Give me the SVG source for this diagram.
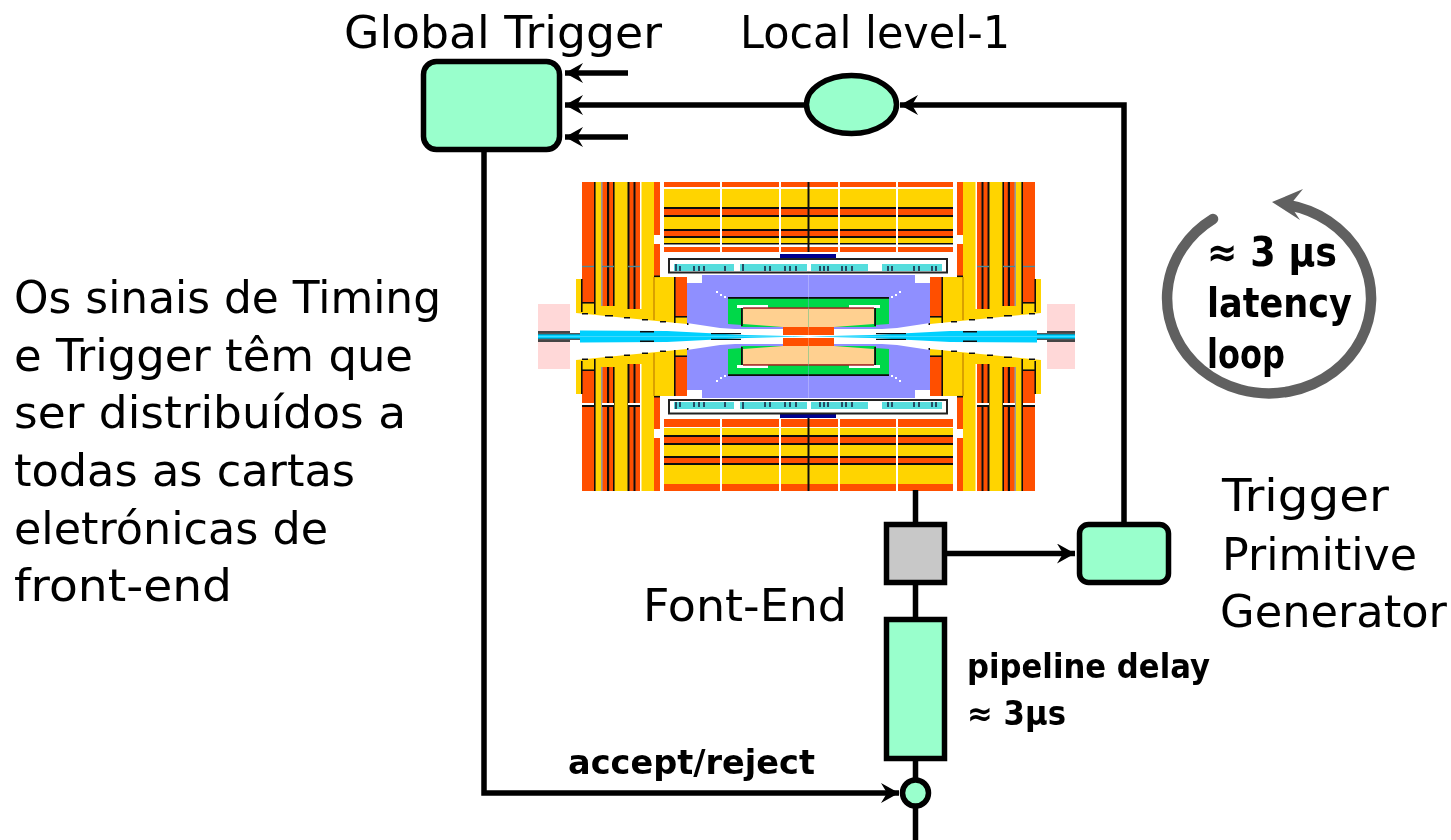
<svg xmlns="http://www.w3.org/2000/svg" xmlns:xlink="http://www.w3.org/1999/xlink" width="1451" height="840" viewBox="0 0 1451 840">
<style>
.n{fill:#99ffcc;stroke:#000;stroke-width:5.5}
.g{fill:#c8c8c8;stroke:#000;stroke-width:5.5}
.c{fill:none;stroke:#000;stroke-width:5.5}
text{font-family:"DejaVu Sans","Noto Sans",sans-serif;fill:#000;font-size:45px}
.b{font-weight:bold;font-size:33px}
.b2{font-weight:bold;font-size:40px}
.o{fill:#ff5000}.y{fill:#ffd400}.k{fill:#111}.w{fill:#fff}.t{fill:#55dddd}.p{fill:#8f8fff}.e{fill:#00d84a}.h{fill:#ffd090}.r{fill:#ffd8d8}.s{fill:#00d0ff}.v{fill:#000090}
</style>
<defs>
<marker id="a" markerUnits="userSpaceOnUse" markerWidth="20" markerHeight="20" refX="18" refY="10" orient="auto"><path d="M0,0 L18,10 L0,20 L6,10 Z" fill="#000"/></marker>
<filter id="soft" x="-2%" y="-2%" width="104%" height="104%"><feGaussianBlur stdDeviation="0.55"/></filter>
<g id="q">
<polygon class="y" points="576,279 582,279 582,182 654,182 654,277 687,277 687,324 576,313"/>
<rect class="o" x="582" y="182" width="12" height="121"/>
<rect class="k" x="594" y="182" width="1.6" height="132"/>
<rect class="k" x="581" y="279" width="1.6" height="33"/>
<rect class="k" x="582" y="302" width="12" height="1.6"/>
<rect class="o" x="602" y="182" width="12" height="124"/>
<rect x="601" y="182" width="1.6" height="124" fill="#999"/>
<rect class="k" x="607" y="182" width="2.2" height="124"/>
<rect class="k" x="613" y="182" width="1.6" height="124"/>
<rect class="o" x="628" y="182" width="12" height="127"/>
<rect class="w" x="640" y="182" width="1.5" height="127"/>
<rect class="k" x="627.5" y="182" width="2" height="127"/>
<rect class="k" x="633.5" y="182" width="2" height="127"/>
<rect class="o" x="654" y="182" width="6" height="53"/>
<rect class="w" x="654" y="235" width="7" height="9"/>
<rect class="o" x="654" y="244" width="6" height="33"/>
<rect class="w" x="660" y="182" width="4" height="90"/>
<rect class="k" x="654" y="275.500" width="6" height="1.600"/>
<rect x="653.400" y="277" width="1.200" height="43" fill="#c08000"/>
<rect class="o" x="675" y="277" width="12" height="39"/>
<rect class="k" x="674" y="277" width="1.600" height="46"/>
<rect class="k" x="675" y="316" width="12" height="1.600"/>
<rect class="k" x="687" y="317" width="1.500" height="8"/>
<rect class="k" x="582" y="313" width="6" height="1.500"/>
<rect class="k" x="605" y="315" width="8" height="1.500"/>
<rect class="k" x="624" y="317" width="6" height="1.500"/>
<rect class="k" x="642" y="319" width="6" height="1.500"/>
<rect class="k" x="660" y="321" width="6" height="1.500"/>
<polygon class="p" points="702,275 808.500,275 808.500,329 735,329 720,328 687,323 687,283 702,283"/>
<polygon class="e" points="728,298 808.500,298 808.500,327 741,327 741,308 742,325 728,324"/>
<rect class="k" x="728" y="297" width="80.500" height="1.800"/>
<rect class="k" x="741" y="308" width="1.800" height="18"/>
<polygon class="w" points="737,305 768,305 768,308 737,308"/>
<polygon class="h" points="743,308 808.500,308 808.500,330 783,330 783,327 743,324"/>
<rect class="o" x="783" y="327" width="25.500" height="8"/>
<rect x="743" y="307.300" width="65.500" height="1.500" fill="#a02020"/>
<rect class="w" x="716" y="291" width="2" height="2"/><rect class="w" x="720" y="294" width="2" height="2"/><rect class="w" x="724" y="296" width="2" height="2"/>
<rect class="r" x="538" y="304" width="32" height="28"/>
<rect x="538" y="331" width="32" height="2" fill="#444"/>
<rect class="s" x="538" y="334" width="42" height="2.500"/>
<rect class="k" x="538" y="333.300" width="42" height="1"/>
<polygon class="s" points="580,330.500 667,331 745,335 808.500,336.500 580,336.500"/>
<rect class="k" x="640" y="331" width="14" height="1.500"/>
<rect class="k" x="711" y="333" width="30" height="1.200"/>
</g>
</defs>
<g id="detector" filter="url(#soft)">
<use xlink:href="#q" href="#q"/>
<use xlink:href="#q" href="#q" transform="translate(1617,0) scale(-1,1)"/>
<use xlink:href="#q" href="#q" transform="translate(0,673) scale(1,-1)"/>
<use xlink:href="#q" href="#q" transform="translate(1617,673) scale(-1,-1)"/>
<rect class="w" x="1075" y="300" width="8" height="72"/>
<rect class="w" x="582" y="403" width="12" height="2"/><rect class="k" x="582" y="405" width="12" height="2"/>
<rect class="w" x="602" y="403" width="12" height="2"/><rect class="k" x="602" y="405" width="12" height="2"/>
<rect class="w" x="628" y="403" width="12" height="2"/><rect class="k" x="628" y="405" width="12" height="2"/>
<rect class="w" x="1023" y="403" width="12" height="2"/><rect class="k" x="1023" y="405" width="12" height="2"/>
<rect class="w" x="1003" y="403" width="12" height="2"/><rect class="k" x="1003" y="405" width="12" height="2"/>
<rect class="w" x="977" y="403" width="12" height="2"/><rect class="k" x="977" y="405" width="12" height="2"/>
<rect x="582" y="265.800" width="12" height="1.400" fill="#508a9a"/><rect x="602" y="265.800" width="12" height="1.400" fill="#508a9a"/><rect x="628" y="265.800" width="12" height="1.400" fill="#508a9a"/>
<rect x="1023" y="265.800" width="12" height="1.400" fill="#508a9a"/><rect x="1003" y="265.800" width="12" height="1.400" fill="#508a9a"/><rect x="977" y="265.800" width="12" height="1.400" fill="#508a9a"/>
<rect class="y" x="664" y="189" width="289" height="55"/>
<rect class="o" x="664" y="182" width="289" height="5"/>
<rect class="o" x="664" y="208" width="289" height="8"/>
<rect class="k" x="664" y="207" width="289" height="2"/><rect class="k" x="664" y="215" width="289" height="2"/>
<rect class="o" x="664" y="230" width="289" height="7"/>
<rect class="k" x="664" y="229" width="289" height="2"/><rect class="k" x="664" y="236" width="289" height="2"/>
<rect class="k" x="664" y="243" width="289" height="1.500"/>
<rect class="o" x="664" y="247" width="289" height="5"/>
<rect class="y" x="664" y="428" width="289" height="56"/>
<rect class="o" x="664" y="419" width="289" height="8"/>
<rect class="o" x="664" y="484" width="289" height="7"/>
<rect class="o" x="664" y="436" width="289" height="7"/>
<rect class="k" x="664" y="435" width="289" height="2"/><rect class="k" x="664" y="443" width="289" height="2"/>
<rect class="o" x="664" y="457" width="289" height="7"/>
<rect class="k" x="664" y="456" width="289" height="2"/><rect class="k" x="664" y="463" width="289" height="2"/>
<rect class="w" x="720" y="182" width="2" height="71"/><rect class="w" x="779" y="182" width="2" height="71"/><rect class="w" x="838" y="182" width="2" height="71"/><rect class="w" x="896" y="182" width="2" height="71"/>
<rect class="w" x="720" y="418" width="2" height="73"/><rect class="w" x="779" y="418" width="2" height="73"/><rect class="w" x="838" y="418" width="2" height="73"/><rect class="w" x="896" y="418" width="2" height="73"/>
<rect class="k" x="807.500" y="182" width="2" height="70"/><rect class="k" x="807.500" y="418" width="2" height="73"/>
<rect class="v" x="780" y="254" width="56" height="5"/><rect class="v" x="780" y="413" width="56" height="5"/>
<rect class="w" x="664" y="253" width="289" height="1"/>
<rect x="669" y="259" width="278" height="13.500" fill="#fff" stroke="#222" stroke-width="2"/>
<rect x="669" y="400" width="278" height="13.500" fill="#fff" stroke="#222" stroke-width="2"/>
<rect class="t" x="674" y="264" width="60" height="7"/><rect class="t" x="740" y="264" width="67" height="7"/><rect class="t" x="811" y="264" width="57" height="7"/><rect class="t" x="882" y="264" width="60" height="7"/>
<rect class="t" x="674" y="402" width="60" height="7"/><rect class="t" x="740" y="402" width="67" height="7"/><rect class="t" x="811" y="402" width="57" height="7"/><rect class="t" x="882" y="402" width="60" height="7"/>
<path d="M676 264v7M680 266v5M694 266v5M699 266v5M704 266v5M725 266v5M743 264v7M765 266v5M770 266v5M785 266v5M790 266v5M796 266v5M820 266v5M824 266v5M828 266v5M842 266v5M846 266v5M852 266v5M888 266v5M892 266v5M914 266v5M919 266v5M932 266v5M936 266v5M676 402v7M680 402v5M694 402v5M699 402v5M704 402v5M725 402v5M743 402v7M765 402v5M770 402v5M785 402v5M790 402v5M796 402v5M820 402v5M824 402v5M828 402v5M842 402v5M846 402v5M852 402v5M888 402v5M892 402v5M914 402v5M919 402v5M932 402v5M936 402v5" stroke="#113" stroke-width="1.400" fill="none"/>
</g>
<g id="connectors">
<path class="c" d="M915.500 490V522M915.500 585V617M915.500 761V778M915.500 808V840"/>
<path class="c" d="M1124 523V105H900" marker-end="url(#a)"/>
<path class="c" d="M805 105H565" marker-end="url(#a)"/>
<path class="c" d="M628 73H565" marker-end="url(#a)"/>
<path class="c" d="M628 137H565" marker-end="url(#a)"/>
<path class="c" d="M947 553.500H1075" marker-end="url(#a)"/>
<path class="c" d="M484 151V793H899" marker-end="url(#a)"/>
</g>
<g id="global-trigger"><rect class="n" x="423.500" y="61.500" width="136" height="88" rx="13"/><text x="344" y="48" textLength="318" lengthAdjust="spacingAndGlyphs">Global Trigger</text></g>
<g id="local-level-1"><ellipse class="n" cx="851.500" cy="104.500" rx="45" ry="29"/><text x="740" y="48" textLength="270" lengthAdjust="spacingAndGlyphs">Local level-1</text></g>
<g id="front-end"><rect class="g" x="886.500" y="524.500" width="58" height="58"/><text x="643" y="621" textLength="204" lengthAdjust="spacingAndGlyphs">Font-End</text></g>
<g id="trigger-primitive-generator"><rect class="n" x="1079.500" y="524.500" width="89" height="58" rx="9"/>
<text x="1222" y="511" textLength="167" lengthAdjust="spacingAndGlyphs">Trigger</text>
<text x="1222" y="570" textLength="195" lengthAdjust="spacingAndGlyphs">Primitive</text>
<text x="1220" y="627" textLength="227" lengthAdjust="spacingAndGlyphs">Generator</text></g>
<g id="pipeline"><rect class="n" x="886.500" y="619.500" width="58" height="139"/>
<text class="b" x="967" y="678" textLength="243" lengthAdjust="spacingAndGlyphs">pipeline delay</text>
<text class="b" x="967" y="725" textLength="99" lengthAdjust="spacingAndGlyphs">≈ 3μs</text></g>
<g id="accept-reject"><circle class="n" cx="915.500" cy="793" r="13"/><text class="b" x="568" y="774" textLength="247" lengthAdjust="spacingAndGlyphs">accept/reject</text></g>
<g id="latency-loop">
<path d="M1213 219A102 95 0 1 0 1288 205" fill="none" stroke="#606060" stroke-width="10.500" stroke-linecap="round"/>
<polygon points="1272,202 1303,189 1290,205 1300,220" fill="#606060"/>
<text class="b2" x="1207" y="266" textLength="130" lengthAdjust="spacingAndGlyphs">≈ 3 μs</text>
<text class="b2" x="1207" y="317" textLength="145" lengthAdjust="spacingAndGlyphs">latency</text>
<text class="b2" x="1207" y="368" textLength="78" lengthAdjust="spacingAndGlyphs">loop</text>
</g>
<g id="note">
<text x="14" y="313" textLength="427" lengthAdjust="spacingAndGlyphs">Os sinais de Timing</text>
<text x="14" y="371" textLength="399" lengthAdjust="spacingAndGlyphs">e Trigger têm que</text>
<text x="14" y="428" textLength="392" lengthAdjust="spacingAndGlyphs">ser distribuídos a</text>
<text x="14" y="486" textLength="341" lengthAdjust="spacingAndGlyphs">todas as cartas</text>
<text x="14" y="544" textLength="314" lengthAdjust="spacingAndGlyphs">eletrónicas de</text>
<text x="14" y="601" textLength="218" lengthAdjust="spacingAndGlyphs">front-end</text>
</g>
</svg>
